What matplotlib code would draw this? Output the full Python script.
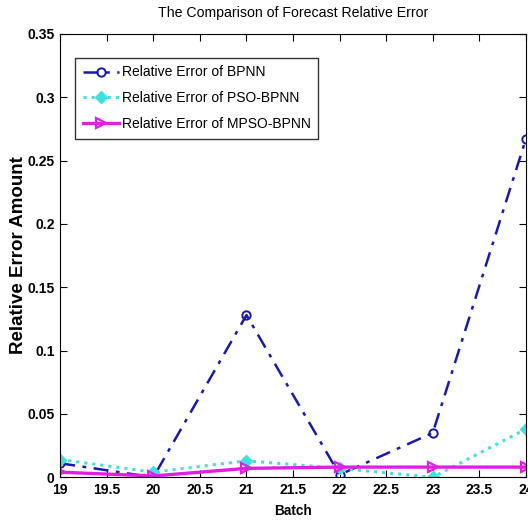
import matplotlib
matplotlib.use("Agg")
import matplotlib.pyplot as plt

batch = [19, 20, 21, 22, 23, 24]
err_bpnn = [0.011, 0.000, 0.128, 0.002, 0.035, 0.267]
err_pso = [0.014, 0.004, 0.013, 0.007, 0.000, 0.038]
err_mpso = [0.004, 0.001, 0.007, 0.008, 0.008, 0.008]

xticks = [19, 19.5, 20, 20.5, 21, 21.5, 22, 22.5, 23, 23.5, 24]
yticks = [0, 0.05, 0.1, 0.15, 0.2, 0.25, 0.3, 0.35]

plt.rcParams['font.family'] = ['Liberation Sans', 'DejaVu Sans']

fig = plt.figure(figsize=(5.28, 5.21), dpi=100)
ax = fig.add_axes([0.114, 0.084, 0.882, 0.851])

ax.plot(batch, err_bpnn, color='#1a1aa8', linestyle=(0, (6, 3, 1.5, 3)), linewidth=1.8,
        marker='o', markersize=6, markerfacecolor='none', markeredgewidth=1.4,
        label='Relative Error of BPNN')
ax.plot(batch, err_pso, color='#40e0e0', linestyle=':', linewidth=2.2,
        marker='D', markersize=6, label='Relative Error of PSO-BPNN')
ax.plot(batch, err_mpso, color='#e020e0', linestyle='-', linewidth=2.4,
        marker='>', markersize=7, markerfacecolor='none', markeredgewidth=1.6,
        label='Relative Error of MPSO-BPNN')

ax.set_xlim(19, 24)
ax.set_ylim(0, 0.35)
ax.set_xticks(xticks)
ax.set_xticklabels(['19', '19.5', '20', '20.5', '21', '21.5', '22', '22.5', '23', '23.5', '24'])
ax.set_yticks(yticks)
ax.set_yticklabels(['0', '0.05', '0.1', '0.15', '0.2', '0.25', '0.3', '0.35'])
ax.tick_params(direction='in', top=True, right=True, labelsize=10, length=5, pad=4)
for lab in ax.get_xticklabels() + ax.get_yticklabels():
    lab.set_fontweight('bold')

ax.set_xlabel('Batch', fontsize=9.8, fontweight='bold', labelpad=5)
ax.set_ylabel('Relative Error Amount', fontsize=13.5, fontweight='bold', labelpad=0)
ax.set_title('The Comparison of Forecast Relative Error', fontsize=10.2, pad=12)

leg = ax.legend(loc='upper left', bbox_to_anchor=(0.032, 0.946), fontsize=10,
                frameon=True, fancybox=False, edgecolor='black',
                borderpad=0.55, handlelength=2.6, handletextpad=0.2,
                labelspacing=0.85, borderaxespad=0)
leg.get_frame().set_linewidth(1.0)

fig.savefig('out.png', dpi=100)
